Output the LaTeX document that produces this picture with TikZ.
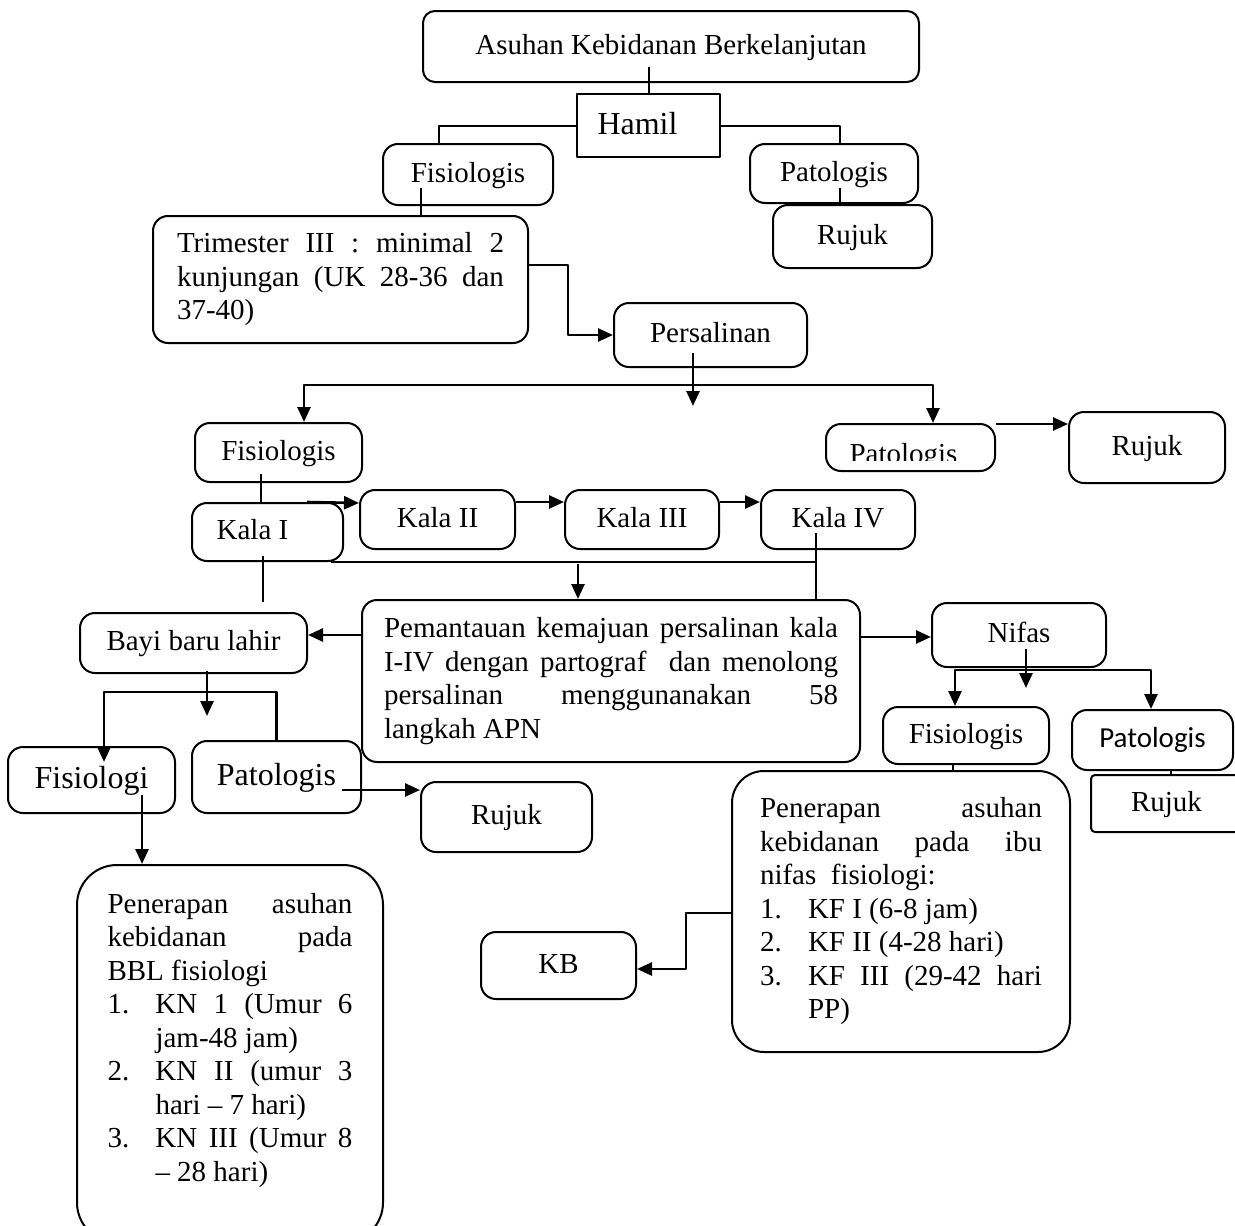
\documentclass[tikz,border=0pt]{standalone}
\usepackage{fontspec}
\setmainfont{Liberation Serif}
\newfontfamily\calibri{Carlito}
\usetikzlibrary{arrows.meta}
\newcommand{\teksbiasa}{\fontsize{29}{33.5}\selectfont}
\newcommand{\teksbesar}{\fontsize{32}{36}\selectfont}
\newcommand{\butir}[2]{\par\hangindent=48pt\hangafter=1\noindent\makebox[48pt][l]{#1}#2}
\hyphenpenalty=10000 \exhyphenpenalty=10000
\begin{document}
\begin{tikzpicture}[x=1pt,y=-1pt,>={Triangle[length=15pt,width=13pt]},line join=round,
	garis/.style={line width=2pt},
	panah/.style={->,line width=2.6pt},
	kotak/.style={draw,line width=2pt,rounded corners=15pt,inner sep=0pt,font=\teksbiasa,text height=19pt,text depth=4pt},
	besar/.style={font=\teksbesar,text height=21pt},
	paragraf/.style={draw,line width=2pt,rounded corners=15pt,inner ysep=0pt,align=justify,font=\teksbiasa}]
	\useasboundingbox (0,0) rectangle (1235,1226);
	\clip (0,0) rectangle (1235,1226);
	% Kehamilan
	\node[kotak,rounded corners=12pt,minimum width=496pt,minimum height=71pt] (asuhan) at (671,46.5) {Asuhan Kebidanan Berkelanjutan};
	\node[kotak,besar,sharp corners,minimum width=143pt,minimum height=63pt] (hamil) at (648.5,125.5) {Hamil\hspace*{22pt}};
	\node[kotak,minimum width=170pt,minimum height=61pt] (fis1) at (468,174.5) {Fisiologis};
	\node[kotak,minimum width=168pt,minimum height=59pt] (pat1) at (834,173.5) {Patologis};
	\node[kotak,minimum width=159pt,minimum height=63pt] (rujuk1) at (852.5,236.5) {Rujuk};
	\node[paragraf,text width=327pt,inner xsep=24pt,minimum height=127pt] (tri) at (340.5,279.5)
		{Trimester III : minimal 2\linebreak kunjungan (UK 28-36 dan\linebreak 37-40)};
	% Persalinan
	\node[kotak,minimum width=193pt,minimum height=64pt] (pers) at (710.5,335) {Persalinan};
	\node[kotak,minimum width=167pt,minimum height=59pt] (fis2) at (278.5,452.5) {Fisiologis};
	\node[kotak,minimum width=169pt,minimum height=47pt] (pat2) at (910.5,447.5) {};
	\begin{scope}
		\clip (826,424) rectangle (995,460);
		\node[font=\teksbiasa,anchor=base,inner sep=0pt] (pat2t) at (903.5,463) {Patologis};
	\end{scope}
	\node[kotak,minimum width=156pt,minimum height=71pt] (rujuk2) at (1147,447.5) {Rujuk};
	\node[kotak,minimum width=151pt,minimum height=58pt] (kala1) at (267.5,532) {Kala I\hspace*{30pt}};
	\node[kotak,minimum width=155pt,minimum height=59pt] (kala2) at (437.5,519.5) {Kala II};
	\node[kotak,minimum width=154pt,minimum height=59pt] (kala3) at (642,519.5) {Kala III};
	\node[kotak,minimum width=154pt,minimum height=59pt] (kala4) at (838,519.5) {Kala IV};
	\node[paragraf,text width=454pt,inner xsep=22pt,minimum height=162pt] (pem) at (611,681)
		{Pemantauan kemajuan persalinan kala\linebreak I-IV dengan partograf\ \ dan menolong\linebreak persalinan menggunanakan 58\linebreak langkah APN};
	% Bayi baru lahir
	\node[kotak,minimum width=227pt,minimum height=60pt] (bayi) at (193.5,643) {Bayi baru lahir};
	\node[kotak,besar,minimum width=167pt,minimum height=66pt] (fisb) at (91.5,780) {Fisiologi};
	\node[kotak,besar,minimum width=169pt,minimum height=72pt] (patb) at (276.5,777) {Patologis};
	\node[kotak,minimum width=171pt,minimum height=70pt] (rujukb) at (506.5,817) {Rujuk};
	\node[paragraf,rounded corners=40pt,text width=245pt,inner xsep=30.5pt,inner ysep=28pt,anchor=north] (bbl) at (230,864)
		{Penerapan asuhan\linebreak kebidanan pada\linebreak BBL fisiologi
		\butir{1.}{KN 1 (Umur 6\linebreak jam-48 jam)}
		\butir{2.}{KN II (umur 3\linebreak hari – 7 hari)}
		\butir{3.}{KN III (Umur 8\linebreak – 28 hari)}
		\par\mbox{}};
	% Nifas
	\node[kotak,minimum width=174pt,minimum height=64pt] (nifas) at (1019,635) {Nifas};
	\node[kotak,minimum width=166pt,minimum height=57pt] (fis3) at (966,735.5) {Fisiologis};
	\node[kotak,font=\calibri\teksbiasa,minimum width=161pt,minimum height=60pt] (pat3) at (1152.5,740) {Patologis};
	\node[kotak,rounded corners=4pt,minimum width=151pt,minimum height=57pt] (rujuk3) at (1166.5,803.5) {Rujuk};
	\node[paragraf,rounded corners=32pt,text width=282pt,inner xsep=28pt,minimum height=281pt] (nifasp) at (901,911.5)
		{Penerapan asuhan\linebreak kebidanan pada ibu\linebreak nifas\ \ fisiologi:
		\butir{1.}{KF I (6-8 jam)}
		\butir{2.}{KF II (4-28 hari)}
		\butir{3.}{KF III (29-42 hari\linebreak PP)}\par};
	\node[kotak,minimum width=155pt,minimum height=67pt] (kb) at (558.5,965.5) {KB};
	% Garis dan panah
	\draw[garis] (hamil.north) -- ([yshift=16pt]hamil.north |- asuhan.south);
	\draw[garis] (hamil.west) -| ([xshift=-29pt]fis1.north);
	\draw[garis] (hamil.east) -| ([xshift=6pt]pat1.north);
	\draw[garis] ([xshift=6pt,yshift=16pt]pat1.south) -- ([xshift=6pt]pat1.south |- rujuk1.north);
	\draw[garis] ([xshift=-47pt,yshift=18pt]fis1.south) -- ([xshift=-47pt]fis1.south |- tri.north);
	\draw[panah] ([yshift=14.5pt]tri.east) -| ([xshift=-45pt]pers.west) -- (pers.west);
	\draw[panah] ([xshift=-17.5pt,yshift=15pt]pers.south) -- ([xshift=-17.5pt,yshift=-38pt]pers.south);
	\draw[panah,<->] ([xshift=25.5pt]fis2.north) |- ([xshift=22.5pt,yshift=38pt]pat2.north) -- ([xshift=22.5pt]pat2.north);
	\draw[panah] ([yshift=23.5pt]pat2.east) -- ([yshift=23.5pt]rujuk2.west);
	\draw[garis] ([xshift=-17.5pt,yshift=9pt]fis2.south) -- ([xshift=-17.5pt]fis2.south |- kala1.north);
	\draw[panah] ([xshift=39.5pt]kala1.north) -- ([yshift=16.5pt]kala2.west);
	\draw[panah] ([yshift=17.5pt]kala2.east) -- ([yshift=17.5pt]kala3.west);
	\draw[panah] ([yshift=17.5pt]kala3.east) -- ([yshift=17.5pt]kala4.west);
	\draw[garis] ([xshift=-13pt]kala1.south east) -- ([xshift=-22pt]kala4.south |- kala1.south);
	\draw[garis] ([xshift=-22pt,yshift=17pt]kala4.south) -- ([xshift=-22pt]kala4.south |- pem.north);
	\draw[panah] ([xshift=-33pt,yshift=-2pt]pem.north |- kala1.south) -- ([xshift=-33pt]pem.north);
	\draw[garis,line width=1.5pt] ([xshift=-4.5pt,yshift=6pt]kala1.south) -- ([xshift=-4.5pt,yshift=10pt]kala1.south |- bayi.north);
	\draw[panah] ([yshift=46pt]pem.west) -- ([yshift=46pt]pem.west -| bayi.east);
	\draw[panah] ([yshift=44pt]pem.east) -- ([yshift=44pt]pem.east -| nifas.west);
	\draw[panah] ([xshift=7pt,yshift=19pt]nifas.south) -- ([xshift=7pt,yshift=-20pt]nifas.south);
	\draw[panah,<->] ([xshift=-11pt]fis3.north) |- ([xshift=-1.5pt,yshift=39pt]pat3.north) -- ([xshift=-1.5pt]pat3.north);
	\draw[garis] ([xshift=18.5pt]pat3.south) -- ([xshift=18.5pt]pat3.south |- rujuk3.north);
	\draw[garis] ([xshift=-13pt]fis3.south) -- ([xshift=-13pt]fis3.south |- nifasp.north);
	\draw[panah] ([yshift=-1.5pt]nifasp.west) -| ([xshift=49pt,yshift=-3.5pt]kb.east) -- ([yshift=-3.5pt]kb.east);
	\draw[panah] ([xshift=13.5pt,yshift=3pt]bayi.south) -- ([xshift=13.5pt,yshift=-42pt]bayi.south);
	\draw[panah] (patb.north) |- ([xshift=12.5pt,yshift=54pt]fisb.north) -- ([xshift=12.5pt,yshift=-16pt]fisb.north);
	\draw[panah] ([xshift=65.5pt,yshift=-13pt]patb.center) -- ([yshift=27pt]rujukb.west);
	\draw[panah] ([xshift=50.5pt,yshift=-15pt]fisb.center) -- ([xshift=50.5pt]fisb.center |- bbl.north);
\end{tikzpicture}
\end{document}
